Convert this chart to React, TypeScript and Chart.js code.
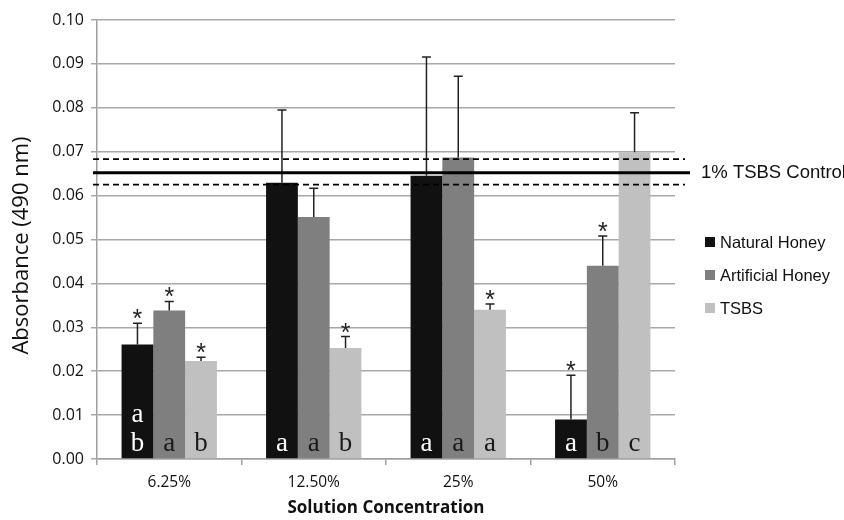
import React, { useEffect, useRef } from "react";
import { Chart, registerables } from "chart.js";

Chart.register(...registerables);

const categories = ["6.25%", "12.50%", "25%", "50%"];
const seriesNames = ["Natural Honey", "Artificial Honey", "TSBS"];
const naturalHoney = [0.0261, 0.0629, 0.0645, 0.009];
const artificialHoney = [0.0338, 0.0551, 0.0687, 0.044];
const tsbs = [0.0223, 0.0253, 0.034, 0.0699];
const errNaturalHoney = [0.0048, 0.0166, 0.0271, 0.0101];
const errArtificialHoney = [0.0021, 0.0066, 0.0185, 0.0068];
const errTsbs = [0.0009, 0.0026, 0.0013, 0.009];
const lettersNaturalHoney = [["a", "b"], ["a"], ["a"], ["a"]];
const lettersArtificialHoney = [["a"], ["a"], ["a"], ["b"]];
const lettersTsbs = [["b"], ["b"], ["a"], ["c"]];
const starNaturalHoney = [true, false, false, true];
const starArtificialHoney = [true, false, false, true];
const starTsbs = [true, true, true, false];
const controlMean = 0.0652;
const controlLow = 0.0625;
const controlHigh = 0.0683;
const controlLabel = "1% TSBS Control";
const yTicks = [0, 0.01, 0.02, 0.03, 0.04, 0.05, 0.06, 0.07, 0.08, 0.09, 0.1];
const yTitle = "Absorbance (490 nm)";
const xTitle = "Solution Concentration";

const colors = ["#111111", "#7f7f7f", "#c0c0c0"];
const letterColors = ["#ffffff", "#1a1a1a", "#1a1a1a"];
const errs = [errNaturalHoney, errArtificialHoney, errTsbs];
const letters = [lettersNaturalHoney, lettersArtificialHoney, lettersTsbs];
const stars = [starNaturalHoney, starArtificialHoney, starTsbs];

const overlay = {
  id: "overlay",
  afterDatasetsDraw(chart: any) {
    const ctx = chart.ctx;
    const y = chart.scales.y;
    const area = chart.chartArea;
    ctx.save();
    chart.data.datasets.forEach((ds: any, di: number) => {
      const meta = chart.getDatasetMeta(di);
      meta.data.forEach((bar: any, i: number) => {
        const v = ds.data[i];
        const top = y.getPixelForValue(v);
        const et = y.getPixelForValue(v + errs[di][i]);
        ctx.strokeStyle = "#222222";
        ctx.lineWidth = 1.5;
        ctx.beginPath();
        ctx.moveTo(bar.x, top);
        ctx.lineTo(bar.x, et);
        ctx.moveTo(bar.x - 4.5, et);
        ctx.lineTo(bar.x + 4.5, et);
        ctx.stroke();
        if (stars[di][i]) {
          ctx.fillStyle = "#222222";
          ctx.font = "25px 'Liberation Sans'";
          ctx.textAlign = "center";
          ctx.textBaseline = "alphabetic";
          ctx.fillText("*", bar.x, et + 4);
        }
        const ls = letters[di][i];
        ctx.fillStyle = letterColors[di];
        ctx.font = "27px 'Liberation Serif'";
        ctx.textAlign = "center";
        ctx.textBaseline = "middle";
        const base = area.bottom - 15;
        for (let k = 0; k < ls.length; k++) {
          const idx = ls.length - 1 - k;
          ctx.fillText(ls[idx], bar.x, base - k * 29);
        }
      });
    });
    const ym = y.getPixelForValue(controlMean);
    const yl = y.getPixelForValue(controlLow);
    const yh = y.getPixelForValue(controlHigh);
    ctx.strokeStyle = "#000000";
    ctx.lineWidth = 3;
    ctx.setLineDash([]);
    ctx.beginPath();
    ctx.moveTo(area.left - 4, ym);
    ctx.lineTo(area.right + 15, ym);
    ctx.stroke();
    ctx.lineWidth = 1.8;
    ctx.setLineDash([6, 4]);
    ctx.beginPath();
    ctx.moveTo(area.left - 4, yl);
    ctx.lineTo(area.right + 10, yl);
    ctx.moveTo(area.left - 4, yh);
    ctx.lineTo(area.right + 10, yh);
    ctx.stroke();
    ctx.setLineDash([]);
    ctx.fillStyle = "#111111";
    ctx.font = "18.5px 'Liberation Sans'";
    ctx.textAlign = "left";
    ctx.textBaseline = "middle";
    ctx.fillText(controlLabel, area.right + 26, ym);
    ctx.font = "16.5px 'Liberation Sans'";
    chart.data.datasets.forEach((ds: any, di: number) => {
      const cy = 242 + di * 33;
      ctx.fillStyle = ds.backgroundColor;
      ctx.fillRect(area.right + 30, cy - 5, 10, 10);
      ctx.fillStyle = "#111111";
      ctx.fillText(ds.label, area.right + 45, cy + 1);
    });
    ctx.fillStyle = "#111111";
    ctx.font = "bold 17px 'Open Sans'";
    ctx.textAlign = "center";
    ctx.textBaseline = "middle";
    ctx.fillText(xTitle, (area.left + area.right) / 2, 508);
    ctx.save();
    ctx.translate(22, (area.top + area.bottom) / 2 + 6);
    ctx.rotate(-Math.PI / 2);
    ctx.font = "22px 'Open Sans'";
    ctx.fillText(yTitle, 0, 0);
    ctx.restore();
    ctx.restore();
  },
};

export default function App() {
  const ref = useRef<HTMLCanvasElement | null>(null);
  useEffect(() => {
    if (!ref.current) return;
    const chart = new Chart(ref.current, {
      type: "bar",
      data: {
        labels: categories,
        datasets: [
          { label: seriesNames[0], data: naturalHoney, backgroundColor: colors[0] },
          { label: seriesNames[1], data: artificialHoney, backgroundColor: colors[1] },
          { label: seriesNames[2], data: tsbs, backgroundColor: colors[2] },
        ],
      },
      options: {
        animation: false,
        responsive: false,
        layout: { padding: { top: 20, right: 169, left: 0, bottom: 0 } },
        plugins: { legend: { display: false }, tooltip: { enabled: false } },
        datasets: { bar: { categoryPercentage: 0.66, barPercentage: 1.0 } },
        scales: {
          x: {
            grid: { drawOnChartArea: false, drawTicks: true, tickLength: 6, color: "#a0a0a0", lineWidth: 1.5 },
            border: { color: "#a0a0a0", width: 1.5 },
            ticks: { color: "#111111", font: { family: "'Open Sans'", size: 15.5 }, padding: 8 },
            afterFit: (s: any) => { s.height = 61; },
          },
          y: {
            min: 0,
            max: 0.1,
            afterBuildTicks: (s: any) => { s.ticks = yTicks.map((v) => ({ value: v })); },
            grid: { color: "#a8a8a8", lineWidth: 1.5, tickLength: 6 },
            border: { color: "#a0a0a0", width: 1.5 },
            ticks: {
              color: "#111111",
              font: { family: "'Open Sans'", size: 16 },
              padding: 7,
              callback: (v: any) => Number(v).toFixed(2),
            },
            afterFit: (s: any) => { s.width = 97; },
          },
        },
      },
      plugins: [overlay],
    });
    return () => chart.destroy();
  }, []);
  return (
    <div style={{ position: "fixed", left: 0, top: 0, width: 844, height: 520, background: "#fff" }}>
      <canvas ref={ref} width={844} height={520} />
    </div>
  );
}
